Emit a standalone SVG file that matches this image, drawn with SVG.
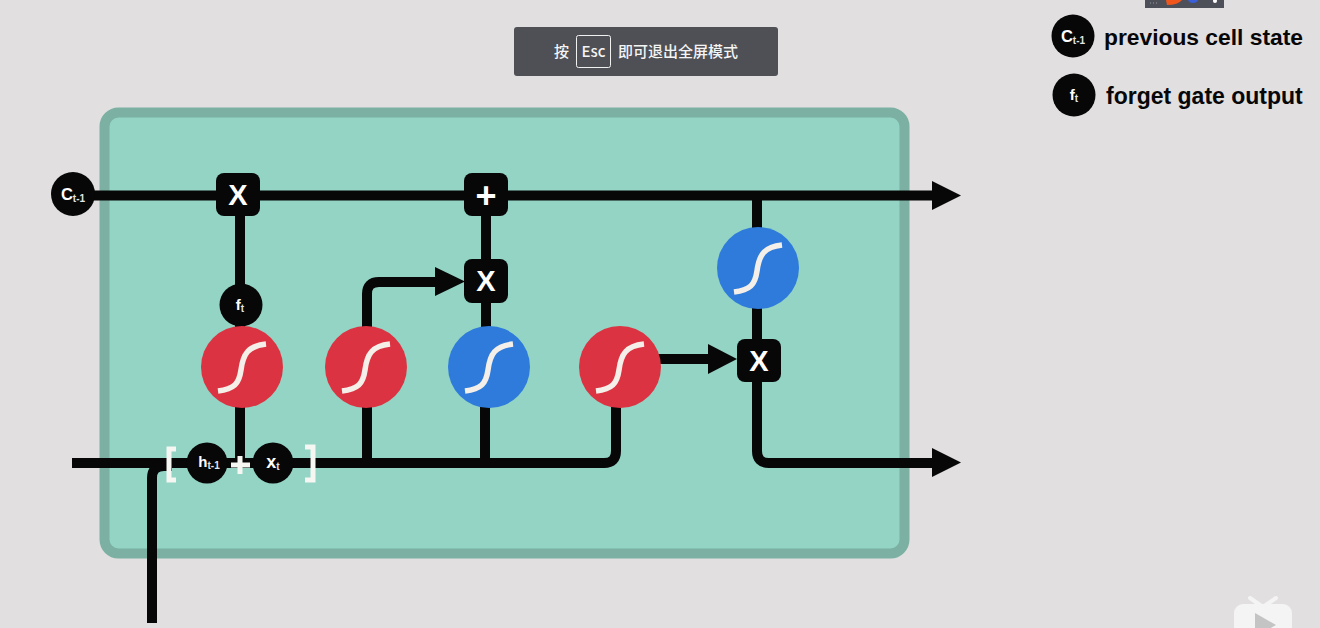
<svg xmlns="http://www.w3.org/2000/svg" width="1320" height="628" viewBox="0 0 1320 628">
<style>
.l{fill:none;stroke:#070707;stroke-width:10}
.g{fill:#070707}
.s{fill:none;stroke:#f4efe8;stroke-width:5.5}
.red{fill:#dc3342}
.blue{fill:#2f7bdb}
.op{fill:#fff;font:bold 29px "Liberation Sans",sans-serif;text-anchor:middle}
.n{fill:#fff;font:bold 16.500px "Liberation Sans",sans-serif;text-anchor:middle}
.sub{font-size:10px;fill:#e4e4e4}
.leg{fill:#070707;font:bold 22.800px "Liberation Sans",sans-serif}
.cjk{fill:#f4f4f4;font:500 15px "Noto Sans CJK SC",sans-serif}
</style>
<defs>
<path id="sig" class="s" d="M-24 24C-8 22-3 17-1 3C1-13 6-21 24-23"/>
</defs>
<rect width="1320" height="628" fill="#e1dfe0"/>
<g id="cell"><rect x="104.500" y="112.500" width="800" height="441" rx="14" fill="#93d4c4" stroke="#7bb0a2" stroke-width="10"/></g>
<g id="connectors">
<path class="l" d="M90 195.500H935"/>
<path class="l" d="M240 210V327"/>
<path class="l" d="M486 210V330"/>
<path class="l" d="M757 195V232"/>
<path class="l" d="M757 305V345"/>
<path class="l" d="M367 330V294Q367 282 379 282H437"/>
<path class="l" d="M655 359H710"/>
<path class="l" d="M757 378V451Q757 463 769 463H935"/>
<path class="l" d="M72 463H604Q616 463 616 451V400"/>
<path class="l" d="M240 400V463"/>
<path class="l" d="M367 400V463"/>
<path class="l" d="M485 400V463"/>
<path class="l" d="M152 623V478Q152 466 164 466H172"/>
<path class="g" d="M932 181L961 195.500L932 210Z"/>
<path class="g" d="M932 448L961 462.500L932 477Z"/>
<path class="g" d="M435 267L465 281.500L435 296Z"/>
<path class="g" d="M708 344L737 359L708 374Z"/>
</g>
<g id="c-input"><circle cx="73" cy="194" r="22" class="g"/><text x="73" y="200" class="n">C<tspan class="sub" dy="2">t-1</tspan></text></g>
<g id="op-forget"><rect x="216" y="173" width="44" height="43" rx="8" class="g"/><text x="238" y="205" class="op">X</text></g>
<g id="op-add"><rect x="464" y="173" width="44" height="43" rx="8" class="g"/><text x="486" y="208" class="op" style="font-size:36px">+</text></g>
<g id="op-input"><rect x="464" y="259" width="44" height="44" rx="8" class="g"/><text x="486" y="291" class="op">X</text></g>
<g id="op-output"><rect x="737" y="339" width="44" height="43" rx="8" class="g"/><text x="759" y="371" class="op">X</text></g>
<g id="f-node"><circle cx="241" cy="305" r="21.500" class="g"/><text x="240" y="310" class="n" style="font-size:15px">f<tspan class="sub" dy="2">t</tspan></text></g>
<g id="sig-forget"><circle cx="242" cy="367" r="41" class="red"/><use href="#sig" x="242" y="367"/></g>
<g id="sig-input"><circle cx="366" cy="367" r="41" class="red"/><use href="#sig" x="366" y="367"/></g>
<g id="tanh-cand"><circle cx="489" cy="367" r="41" class="blue"/><use href="#sig" x="489" y="367"/></g>
<g id="sig-output"><circle cx="620" cy="367" r="41" class="red"/><use href="#sig" x="620" y="367"/></g>
<g id="tanh-output"><circle cx="758" cy="268" r="41" class="blue"/><use href="#sig" x="758" y="268"/></g>
<g id="concat">
<path d="M176 449H169V480H176M305 447H313V480H305" fill="none" stroke="#f6f6f2" stroke-width="5"/>
<path d="M240 456V474M231 465H250" fill="none" stroke="#f6f6f2" stroke-width="5"/>
</g>
<g id="h-node"><circle cx="207" cy="463" r="20.500" class="g"/><text x="209" y="467" class="n" style="font-size:15px">h<tspan class="sub" dy="2">t-1</tspan></text></g>
<g id="x-node"><circle cx="273" cy="463" r="20.500" class="g"/><text x="273" y="468" class="n" style="font-size:18px">x<tspan class="sub" dy="2">t</tspan></text></g>
<g id="legend-c"><circle cx="1073" cy="36" r="21.500" class="g"/><text x="1073" y="42" class="n">C<tspan class="sub" dy="2">t-1</tspan></text><text x="1104" y="45" class="leg">previous cell state</text></g>
<g id="legend-f"><circle cx="1074" cy="95" r="21.500" class="g"/><text x="1074" y="100" class="n" style="font-size:15px">f<tspan class="sub" dy="2">t</tspan></text><text x="1106" y="104" class="leg" style="font-size:23px">forget gate output</text></g>
<g id="esc-toast">
<rect x="514" y="27" width="264" height="49" rx="3" fill="#4e5055"/>
<text x="554" y="57" class="cjk">按</text>
<rect x="576.500" y="35.500" width="34" height="32" rx="2" fill="none" stroke="#f0f0f0" stroke-width="1"/>
<text x="593.500" y="57" class="cjk" text-anchor="middle">Esc</text>
<text x="618" y="57" class="cjk">即可退出全屏模式</text>
</g>
<g id="top-strip">
<rect x="1145" y="0" width="79" height="8" fill="#4d5058"/>
<path d="M1166 0H1182Q1178 5 1167 5Z" fill="#f0561c"/>
<path d="M1188 0H1198Q1197 3 1193 3Q1189 3 1188 0Z" fill="#3a5fd8"/>
<circle cx="1215" cy="1" r="2" fill="#fff"/>
<path d="M1150 3H1157" stroke="#999" stroke-dasharray="1 2" fill="none"/>
</g>
<g id="play-icon">
<path d="M1250 598L1263 607L1276 598" fill="none" stroke="#f4f4f4" stroke-width="4" stroke-linecap="round"/>
<rect x="1234" y="604" width="58" height="40" rx="9" fill="#f4f4f4"/>
<path d="M1255 613L1276 625L1255 637Z" fill="#c4c4c4"/>
</g>
</svg>
